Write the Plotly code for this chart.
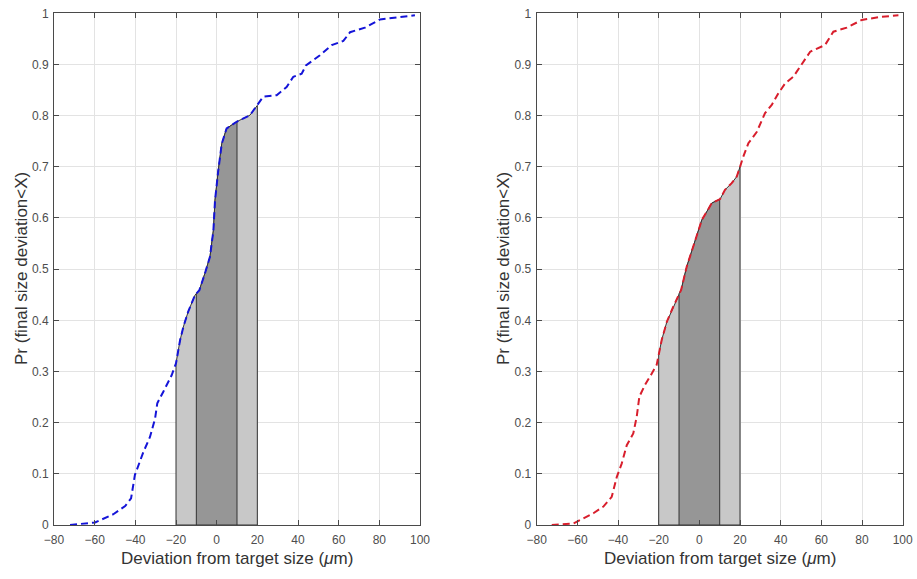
import numpy as np
import plotly.graph_objects as go

# Left panel (blue) CDF
blue_x = [-72.1, -59.8, -50.8, -45.0, -42.1, -40.2, -36.1, -32.8, -30.3, -29.2, -26.3, -22.1,
          -20.0, -18.0, -16.4, -14.0, -10.7, -8.5, -5.75, -3.3, -1.6, -0.8, 0.8, 2.5, 4.9,
          9.8, 16.4, 20.0, 22.9, 29.5, 34.4, 37.7, 41.8, 43.9, 50.8, 56.6, 62.3, 65.6, 72.9,
          80.3, 90.2, 97.5]
blue_y = [0.0, 0.005, 0.021, 0.037, 0.052, 0.098, 0.142, 0.172, 0.208, 0.238, 0.26, 0.293,
          0.316, 0.361, 0.387, 0.417, 0.449, 0.459, 0.492, 0.524, 0.576, 0.635, 0.693, 0.745, 0.775,
          0.788, 0.801, 0.820, 0.837, 0.840, 0.856, 0.876, 0.882, 0.898, 0.918, 0.938, 0.946, 0.963, 0.972,
          0.988, 0.993, 0.996]

# Right panel (red) CDF
red_x = [-72.6, -62.0, -52.1, -47.2, -43.1, -40.6, -38.2, -35.7, -32.5, -30.8, -29.5, -26.7,
         -23.4, -21.0, -18.5, -16.0, -12.8, -10.3, -9.0, -6.2, -3.7, -1.3, 1.2, 3.6, 6.1, 10.2,
         12.6, 15.9, 18.4, 20.0, 21.6, 24.1, 28.2, 32.3, 35.6, 38.9, 42.2, 46.2, 50.4, 54.5,
         61.8, 65.9, 72.5, 79.9, 88.9, 97.9]
red_y = [0.0, 0.003, 0.023, 0.036, 0.055, 0.094, 0.12, 0.156, 0.179, 0.212, 0.251, 0.274,
         0.296, 0.313, 0.362, 0.397, 0.427, 0.45, 0.459, 0.505, 0.537, 0.563, 0.596, 0.612, 0.629, 0.637,
         0.655, 0.668, 0.681, 0.700, 0.72, 0.746, 0.768, 0.805, 0.821, 0.844, 0.863, 0.876, 0.902, 0.925,
         0.938, 0.964, 0.972, 0.987, 0.993, 0.996]

outer_band = (-20, 20)
inner_band = (-10, 10)
x_ticks = [-80, -60, -40, -20, 0, 20, 40, 60, 80, 100]
y_ticks = [0, 0.1, 0.2, 0.3, 0.4, 0.5, 0.6, 0.7, 0.8, 0.9, 1]
y_tick_text = ["0", "0.1", "0.2", "0.3", "0.4", "0.5", "0.6", "0.7", "0.8", "0.9", "1"]

W, H = 917, 579


def band_polygon(xs, ys, lo, hi):
    xs = np.asarray(xs); ys = np.asarray(ys)
    inside = (xs > lo) & (xs < hi)
    px = [lo] + list(xs[inside]) + [hi]
    py = [float(np.interp(lo, xs, ys))] + list(ys[inside]) + [float(np.interp(hi, xs, ys))]
    px = px + [hi, lo, lo]
    py = py + [0, 0, py[0]]
    return px, py


fig = go.Figure()

panels = [(blue_x, blue_y, "#1414d8", "x", "y"), (red_x, red_y, "#d81e2c", "x2", "y2")]
for xs, ys, col, xa, ya in panels:
    for (lo, hi), fc in [(outer_band, "#c8c8c8"), (inner_band, "#969696")]:
        px, py = band_polygon(xs, ys, lo, hi)
        fig.add_trace(go.Scatter(x=px, y=py, mode="lines", fill="toself", fillcolor=fc,
                                 line=dict(color="#333333", width=1), xaxis=xa, yaxis=ya,
                                 hoverinfo="skip", showlegend=False))
    fig.add_trace(go.Scatter(x=xs, y=ys, mode="lines", line=dict(color=col, width=2, dash="7px,4px"),
                             xaxis=xa, yaxis=ya, showlegend=False))

left_dom = [54 / W, 420 / W]
right_dom = [536.7 / W, 902.7 / W]
y_dom = [1 - 525 / H, 1 - 13.3 / H]

axis_common = dict(showgrid=True, gridcolor="#e3e3e3", gridwidth=1, zeroline=False,
                   showline=True, linecolor="#4a4a4a", linewidth=1, mirror="ticks",
                   ticks="inside", ticklen=5, tickcolor="#4a4a4a", automargin=False,
                   tickfont=dict(family="Liberation Sans, Arial, sans-serif", size=12, color="#4d4d4d"))

xax = dict(range=[-80, 100], tickvals=x_ticks, ticklabelstandoff=4, **axis_common)
yax = dict(domain=y_dom, range=[0, 1], tickvals=y_ticks, ticktext=y_tick_text, ticklabelstandoff=2, **axis_common)

fig.update_layout(
    template="none",
    width=W, height=H, margin=dict(l=0, r=0, t=0, b=0, pad=0, autoexpand=False),
    paper_bgcolor="white", plot_bgcolor="white",
    xaxis=dict(domain=left_dom, anchor="y", **xax),
    yaxis=dict(anchor="x", **yax),
    xaxis2=dict(domain=right_dom, anchor="y2", **xax),
    yaxis2=dict(anchor="x2", **yax),
)

title_font = dict(family="Liberation Sans, Arial, sans-serif", size=17, color="#333333")
for cx in [(54 + 420) / 2, (536.7 + 902.7) / 2]:
    fig.add_annotation(text="Deviation from target size (<i>μ</i>m)", x=cx / W, y=1 - 558 / H,
                       xref="paper", yref="paper", showarrow=False, font=title_font,
                       xanchor="center", yanchor="middle")
for cx in [21, 503]:
    fig.add_annotation(text="Pr (final size deviation<X)", x=cx / W, y=1 - 269 / H,
                       xref="paper", yref="paper", showarrow=False, font=title_font, textangle=-90,
                       xanchor="center", yanchor="middle")

fig.write_html("out.html")
